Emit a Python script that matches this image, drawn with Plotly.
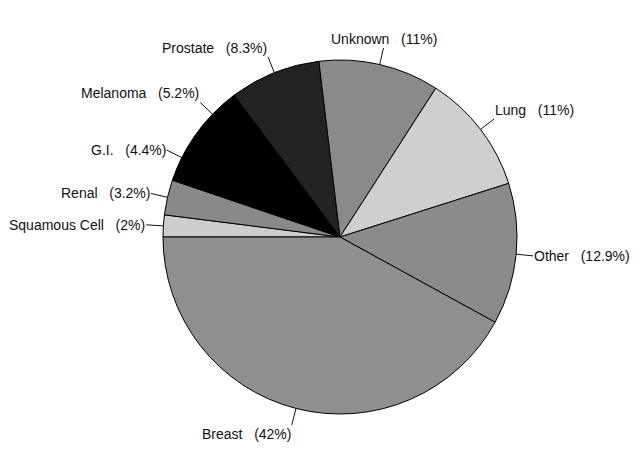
import math
import plotly.graph_objects as go

# ---- data ----
labels = ["Squamous Cell", "Renal", "G.I.", "Melanoma", "Prostate",
          "Unknown", "Lung", "Other", "Breast"]
values = [2, 3.2, 4.4, 5.2, 8.3, 11, 11, 12.9, 42]
colors = ["#cdcdcd", "#898989", "#000000", "#000000", "#232323",
          "#8a8a8a", "#cfcfcf", "#8b8b8b", "#8f8f8f"]

# ---- layout geometry ----
W, H = 642, 463
CX, CY, R = 340, 237, 177
START = 180.0      # first slice starts at 9 o'clock, going clockwise
LEAD = 17          # leader line length in px

dom_x = [(CX - R) / W, (CX + R) / W]
dom_y = [(H - CY - R) / H, (H - CY + R) / H]

fig = go.Figure(go.Pie(
    labels=labels,
    values=values,
    sort=False,
    direction="clockwise",
    rotation=-90,
    textinfo="none",
    hoverinfo="label+percent",
    marker=dict(colors=colors, line=dict(color="#000000", width=1)),
    domain=dict(x=dom_x, y=dom_y),
    showlegend=False,
))

total = sum(values)
cum = 0.0
annotations = []
for lab, v in zip(labels, values):
    mid = START - 360.0 * (cum + v / 2) / total
    cum += v
    t = math.radians(mid)
    c, s = math.cos(t), math.sin(t)
    hx = (CX + R * c) / W
    hy = (H - CY + R * s) / H
    if c > 0.24:
        xa = "left"
    elif c < -0.24:
        xa = "right"
    else:
        xa = "center"
    if s > 0.5:
        ya = "bottom"
    elif s < -0.5:
        ya = "top"
    else:
        ya = "middle"
    annotations.append(dict(
        x=hx, y=hy, xref="paper", yref="paper",
        text=f"{lab}\u00a0\u00a0\u00a0({v:g}%)",
        showarrow=True, arrowhead=0, arrowwidth=1, arrowcolor="#111111",
        ax=LEAD * c, ay=-LEAD * s,
        xanchor=xa, yanchor=ya,
        standoff=0, startstandoff=0, borderpad=0,
        font=dict(family="Liberation Sans, Arial, sans-serif", size=14, color="#111111"),
    ))

fig.update_layout(
    width=W, height=H,
    margin=dict(l=0, r=0, t=0, b=0),
    paper_bgcolor="white",
    plot_bgcolor="white",
    annotations=annotations,
)

fig.write_html("out.html", config={"displayModeBar": False},
               post_script="document.body.style.margin='0';")
